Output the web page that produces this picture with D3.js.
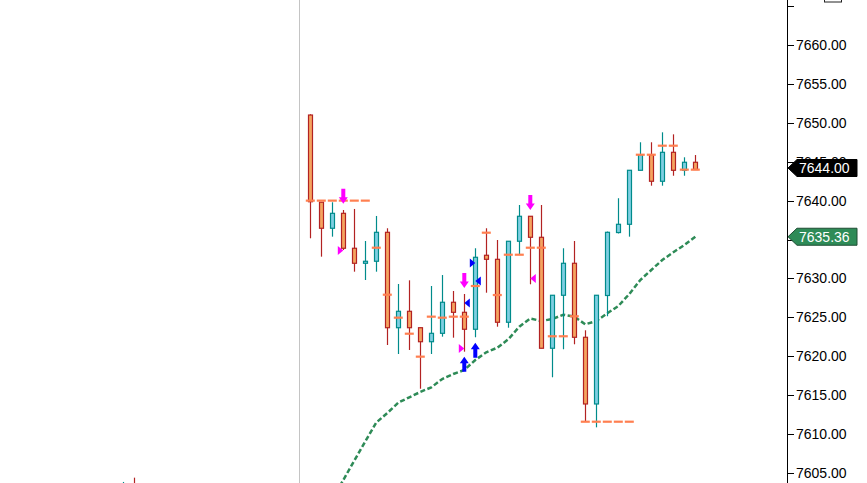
<!DOCTYPE html>
<html>
<head>
<meta charset="utf-8">
<script src="https://cdn.jsdelivr.net/npm/d3@7/dist/d3.min.js"></script>
<style>
  html, body { margin: 0; padding: 0; background: #fff; }
  svg { display: block; }
  text { font-family: "Liberation Sans", Arial, sans-serif; }
</style>
</head>
<body>
<svg id="chart" width="867" height="483"></svg>
<script>
// ---- data (bar slots 0..35) ----
const bars   = d3.range(0, 36);
const opens  = [7651.0, 7639.8, 7636.45, 7638.37, 7633.88, 7631.95, 7632.21, 7635.93, 7623.67, 7625.78, 7623.67, 7621.87, 7622.95, 7626.94, 7625.65, 7623.47, 7632.98, 7632.46, 7624.37, 7634.78, 7637.99, 7635.29, 7621.03, 7627.84, 7631.95, 7622.44, 7613.87, 7627.81, 7635.9, 7636.96, 7643.9, 7645.9, 7642.49, 7646.21, 7643.9, 7644.93];
const highs  = [7651.1, 7639.8, 7639.79, 7638.8, 7638.93, 7634.81, 7638.03, 7636.45, 7629.29, 7629.76, 7623.67, 7629.03, 7630.44, 7628.39, 7628.0, 7633.88, 7636.45, 7634.94, 7634.78, 7639.44, 7637.99, 7639.44, 7627.84, 7633.88, 7634.81, 7623.34, 7627.84, 7636.03, 7640.31, 7643.9, 7647.5, 7647.5, 7648.78, 7648.52, 7645.57, 7645.86];
const lows   = [7635.16, 7632.8, 7635.37, 7633.66, 7630.87, 7629.8, 7630.87, 7621.45, 7620.29, 7620.81, 7615.83, 7620.29, 7622.52, 7622.39, 7620.59, 7622.44, 7628.17, 7623.8, 7623.67, 7633.14, 7629.25, 7621.03, 7617.3, 7620.9, 7621.54, 7611.59, 7610.87, 7625.14, 7635.78, 7635.37, 7643.9, 7641.92, 7641.92, 7643.2, 7643.2, 7644.0];
const closes = [7639.86, 7636.45, 7638.37, 7633.88, 7631.95, 7632.21, 7635.93, 7623.67, 7625.78, 7623.67, 7621.87, 7622.95, 7626.94, 7625.65, 7623.47, 7632.72, 7632.46, 7624.37, 7634.78, 7637.99, 7635.29, 7621.03, 7627.84, 7631.95, 7622.44, 7613.87, 7627.84, 7635.93, 7636.96, 7643.9, 7645.9, 7642.49, 7646.21, 7643.9, 7644.93, 7644.0];
const levels = [7640, 7640, 7640, 7640, 7640, 7640, 7633.95, 7627.91, 7624.96, 7622.9, 7619.95, 7625.09, 7624.96, 7625.09, 7625.09, 7629.03, 7635.88, 7627.87, 7633.05, 7633.05, 7633.95, 7633.95, 7622.57, 7622.57, 7625.14, 7611.59, 7611.59, 7611.59, 7611.59, 7611.59, 7645.9, 7645.9, 7647.06, 7647.06, 7643.98, 7643.98];
const maValues = [null, null, 7601.66, 7604.1, 7606.58, 7609.06, 7611.49, 7612.71, 7614.04, 7614.73, 7615.41, 7616.01, 7617.08, 7617.72, 7618.24, 7619.52, 7620.51, 7621.10, 7622.18, 7623.80, 7624.85, 7624.53, 7624.79, 7625.34, 7625.09, 7624.11, 7624.53, 7625.52, 7626.46, 7628.00, 7629.80, 7631.09, 7632.37, 7633.36, 7634.30, 7635.36];

// earlier bars (mostly below the visible range)
const earlySlots  = [-17, -16];
const earlyOpens  = [7598.0, 7603.0];
const earlyHighs  = [7603.85, 7604.4];
const earlyLows   = [7596.0, 7596.5];
const earlyCloses = [7602.0, 7599.0];

// signals
const downArrowBars   = [3, 14, 20];
const downArrowPrices = [7639.6, 7628.77, 7638.8];
const upArrowBars     = [14, 15];
const upArrowPrices   = [7619.95, 7621.74];
const triBars   = [3, 14, 20, 14, 15, 15];
const triPrices = [7633.6, 7621.0, 7630.0, 7626.85, 7629.67, 7631.98];
const triSides  = ["left", "left", "right", "right", "right", "left"];
const triKinds  = ["sell", "sell", "sell", "buy", "buy", "buy"];

const yTicks = d3.range(7605, 7666, 5);
const yLabelTicks = d3.range(7605, 7661, 5);
const lastPrice = 7644.00;
const lastMA = 7635.36;

// ---- layout ----
const W = 867, H = 483, axisX = 787;
const svg = d3.select("#chart");
svg.append("rect").attr("width", W).attr("height", H).attr("fill", "#fff");

const x = d3.scaleLinear().domain([0, 35]).range([310.3, 695.3]);
const y = d3.scaleLinear().domain([7605, 7660]).range([473, 45]);
const px = v => Math.round(x(v));

svg.append("defs").append("clipPath").attr("id", "plot")
  .append("rect").attr("x", 0).attr("y", 0).attr("width", axisX).attr("height", H);
const g = svg.append("g").attr("clip-path", "url(#plot)");

// session separator
g.append("line").attr("x1", px(-1) + 0.5).attr("x2", px(-1) + 0.5)
  .attr("y1", 0).attr("y2", H).attr("stroke", "#c4c4c4").attr("stroke-width", 1);

const UP_FILL = "#7ecfe2", UP_STROKE = "#008b8b";
const DN_FILL = "#f4a460", DN_STROKE = "#b22222";

function drawCandles(slots, O, Hh, L, C) {
  const data = slots.map((s, k) => ({ s, o: O[k], h: Hh[k], l: L[k], c: C[k] }));
  const cg = g.append("g");
  cg.selectAll("line.wick").data(data).join("line")
    .attr("class", "wick")
    .attr("x1", d => px(d.s) + 0.5).attr("x2", d => px(d.s) + 0.5)
    .attr("y1", d => y(d.h)).attr("y2", d => y(d.l))
    .attr("stroke", d => d.c >= d.o ? UP_STROKE : DN_STROKE).attr("stroke-width", 1.2);
  cg.selectAll("rect.body").data(data).join("rect")
    .attr("class", "body")
    .attr("x", d => px(d.s) - 1.5)
    .attr("width", 4)
    .attr("y", d => y(Math.max(d.o, d.c)))
    .attr("height", d => Math.max(1, Math.abs(y(d.o) - y(d.c))))
    .attr("fill", d => d.c >= d.o ? UP_FILL : DN_FILL)
    .attr("stroke", d => d.c >= d.o ? UP_STROKE : DN_STROKE)
    .attr("stroke-width", 1.2);
}
drawCandles(earlySlots, earlyOpens, earlyHighs, earlyLows, earlyCloses);

// moving average (dashed)
const ma = d3.line().defined(d => d[1] != null).x(d => x(d[0])).y(d => y(d[1]));
g.append("path").datum(bars.map(i => [i, maValues[i]]))
  .attr("d", ma).attr("fill", "none").attr("stroke", "#2e8b57")
  .attr("stroke-width", 2.5).attr("stroke-dasharray", "5,2.5");

drawCandles(bars, opens, highs, lows, closes);

// level markers
g.selectAll("line.lvl").data(bars).join("line")
  .attr("class", "lvl")
  .attr("x1", i => x(i) - 4.5).attr("x2", i => x(i) + 4.5)
  .attr("y1", i => y(levels[i])).attr("y2", i => y(levels[i]))
  .attr("stroke", "#ff7f50").attr("stroke-width", 2.2);

// arrows
function arrowPath(cx, ty, dir) { // dir: 1 = down (tip at bottom), -1 = up
  const s = dir;
  return `M${cx - 2},${ty - s * 15} L${cx + 2},${ty - s * 15} L${cx + 2},${ty - s * 6.5} ` +
         `L${cx + 4.5},${ty - s * 6.5} L${cx},${ty} L${cx - 4.5},${ty - s * 6.5} L${cx - 2},${ty - s * 6.5} Z`;
}
g.selectAll("path.dn").data(downArrowBars).join("path")
  .attr("class", "dn")
  .attr("d", (b, k) => arrowPath(x(b), y(downArrowPrices[k]), 1))
  .attr("fill", "#ff00ff");
g.selectAll("path.up").data(upArrowBars).join("path")
  .attr("class", "up")
  .attr("d", (b, k) => arrowPath(x(b), y(upArrowPrices[k]), -1))
  .attr("fill", "#0000ff");

// triangles
g.selectAll("path.tri").data(triBars).join("path")
  .attr("class", "tri")
  .attr("d", (b, k) => {
    const cx = x(b), cy = y(triPrices[k]);
    if (triSides[k] === "left") // right-pointing, left of the bar
      return `M${cx - 5.5},${cy - 4.5} L${cx},${cy} L${cx - 5.5},${cy + 4.5} Z`;
    return `M${cx + 5.5},${cy - 4.5} L${cx},${cy} L${cx + 5.5},${cy + 4.5} Z`;
  })
  .attr("fill", (b, k) => triKinds[k] === "sell" ? "#ff00ff" : "#0000ff");

// ---- right price axis ----
const ax = svg.append("g");
ax.append("line").attr("x1", axisX + 0.5).attr("x2", axisX + 0.5)
  .attr("y1", 0).attr("y2", H).attr("stroke", "#000").attr("stroke-width", 1);
ax.selectAll("line.tk").data(yTicks).join("line")
  .attr("class", "tk")
  .attr("x1", axisX).attr("x2", axisX + 7)
  .attr("y1", d => Math.round(y(d)) + 0.5).attr("y2", d => Math.round(y(d)) + 0.5)
  .attr("stroke", "#000").attr("stroke-width", 1);
ax.selectAll("text.tl").data(yLabelTicks).join("text")
  .attr("class", "tl")
  .attr("x", axisX + 9).attr("y", d => y(d))
  .attr("dy", "0.36em").attr("font-size", 14).attr("fill", "#000")
  .text(d => d3.format(".2f")(d));

// small box at top right
svg.append("rect").attr("x", 824.5).attr("y", -10).attr("width", 17).attr("height", 12)
  .attr("fill", "#fff").attr("stroke", "#222").attr("stroke-width", 1);

// price labels
function priceLabel(v, fill, stroke, off) {
  const cy = y(v) + off;
  const lg = svg.append("g");
  lg.append("path")
    .attr("d", `M${axisX + 1},${cy} L${axisX + 10},${cy - 8.5} L${857},${cy - 8.5} L${857},${cy + 8.5} L${axisX + 10},${cy + 8.5} Z`)
    .attr("fill", fill).attr("stroke", stroke).attr("stroke-width", 1);
  lg.append("text").attr("x", axisX + 12).attr("y", cy).attr("dy", "0.36em")
    .attr("font-size", 14).attr("fill", "#fff").text(d3.format(".2f")(v));
}
priceLabel(lastPrice, "#000", "#000", -1.5);
priceLabel(lastMA, "#2e8b57", "#1e4d33", 0);
</script>
</body>
</html>
